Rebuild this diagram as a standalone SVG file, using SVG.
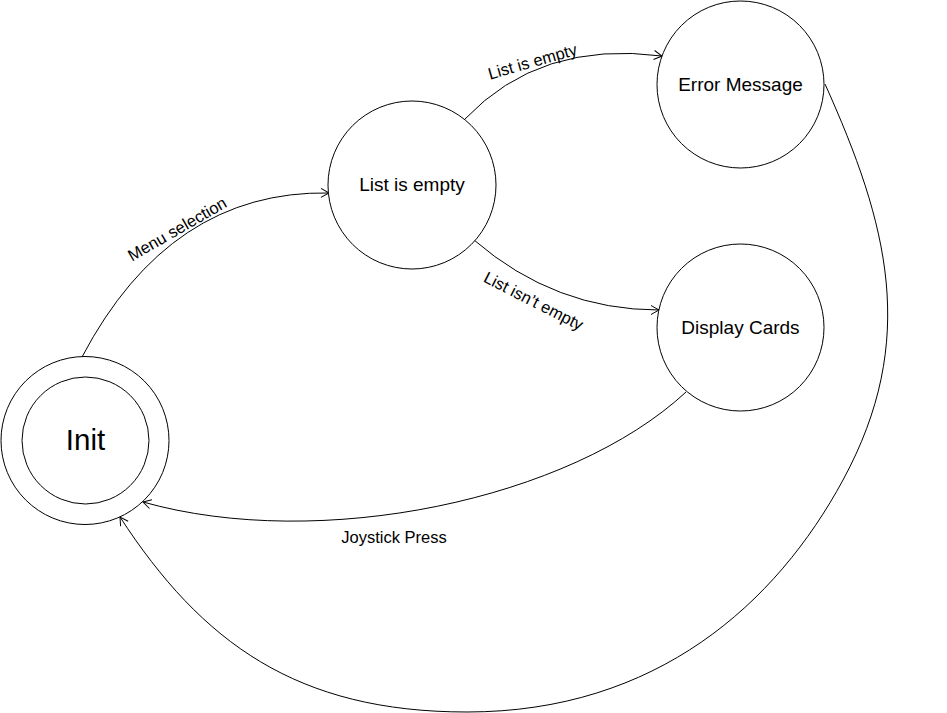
<svg xmlns="http://www.w3.org/2000/svg" width="947" height="713" viewBox="0 0 947 713">
<style>
.node{fill:#fff;stroke:#000;stroke-width:1}
.lbl{font-family:"Liberation Sans",Arial,sans-serif;font-size:19px;fill:#000;text-anchor:middle}
.elbl{font-family:"Liberation Sans",Arial,sans-serif;font-size:16.5px;fill:#000;text-anchor:middle}
.edge{fill:none;stroke:#000;stroke-width:1;marker-end:url(#arr)}
</style>
<defs>
<marker id="arr" markerUnits="userSpaceOnUse" markerWidth="12" markerHeight="12" refX="8" refY="4.5" orient="auto" overflow="visible">
<path d="M0,0 L8,4.5 L0,9" fill="none" stroke="#000" stroke-width="1"/>
</marker>
</defs>
<rect width="947" height="713" fill="#fff"/>
<g id="edges">
<path class="edge" d="M82,357 Q170,190 329,193"/>
<path class="edge" d="M465,119 Q540,40 662,56"/>
<path class="edge" d="M474,240 Q555,310 659,310"/>
<path class="edge" d="M686,392 C570,500 320,552 143,502"/>
<path class="edge" d="M825,84 C888,224 919,340 843,480 C776.5,603 657,712 467,712 C297,712 202,643 120,517"/>
<text class="elbl" transform="translate(180,234) rotate(-30)">Menu selection</text>
<text class="elbl" transform="translate(534,67) rotate(-16)">List is empty</text>
<text class="elbl" transform="translate(531,306) rotate(27)">List isn’t empty</text>
<text class="elbl" x="394" y="543">Joystick Press</text>
</g>
<g id="init">
<circle class="node" cx="85" cy="440.5" r="84"/>
<circle class="node" cx="85.5" cy="440.5" r="63.5"/>
<text class="lbl" x="85.5" y="450" style="font-size:29.5px">Init</text>
</g>
<g id="list-is-empty">
<circle class="node" cx="412" cy="185" r="84"/>
<text class="lbl" x="412" y="191">List is empty</text>
</g>
<g id="error-message">
<circle class="node" cx="740.5" cy="84.5" r="83.5"/>
<text class="lbl" x="740.5" y="91">Error Message</text>
</g>
<g id="display-cards">
<circle class="node" cx="740.5" cy="327.5" r="83.5"/>
<text class="lbl" x="740.5" y="334">Display Cards</text>
</g>
</svg>
